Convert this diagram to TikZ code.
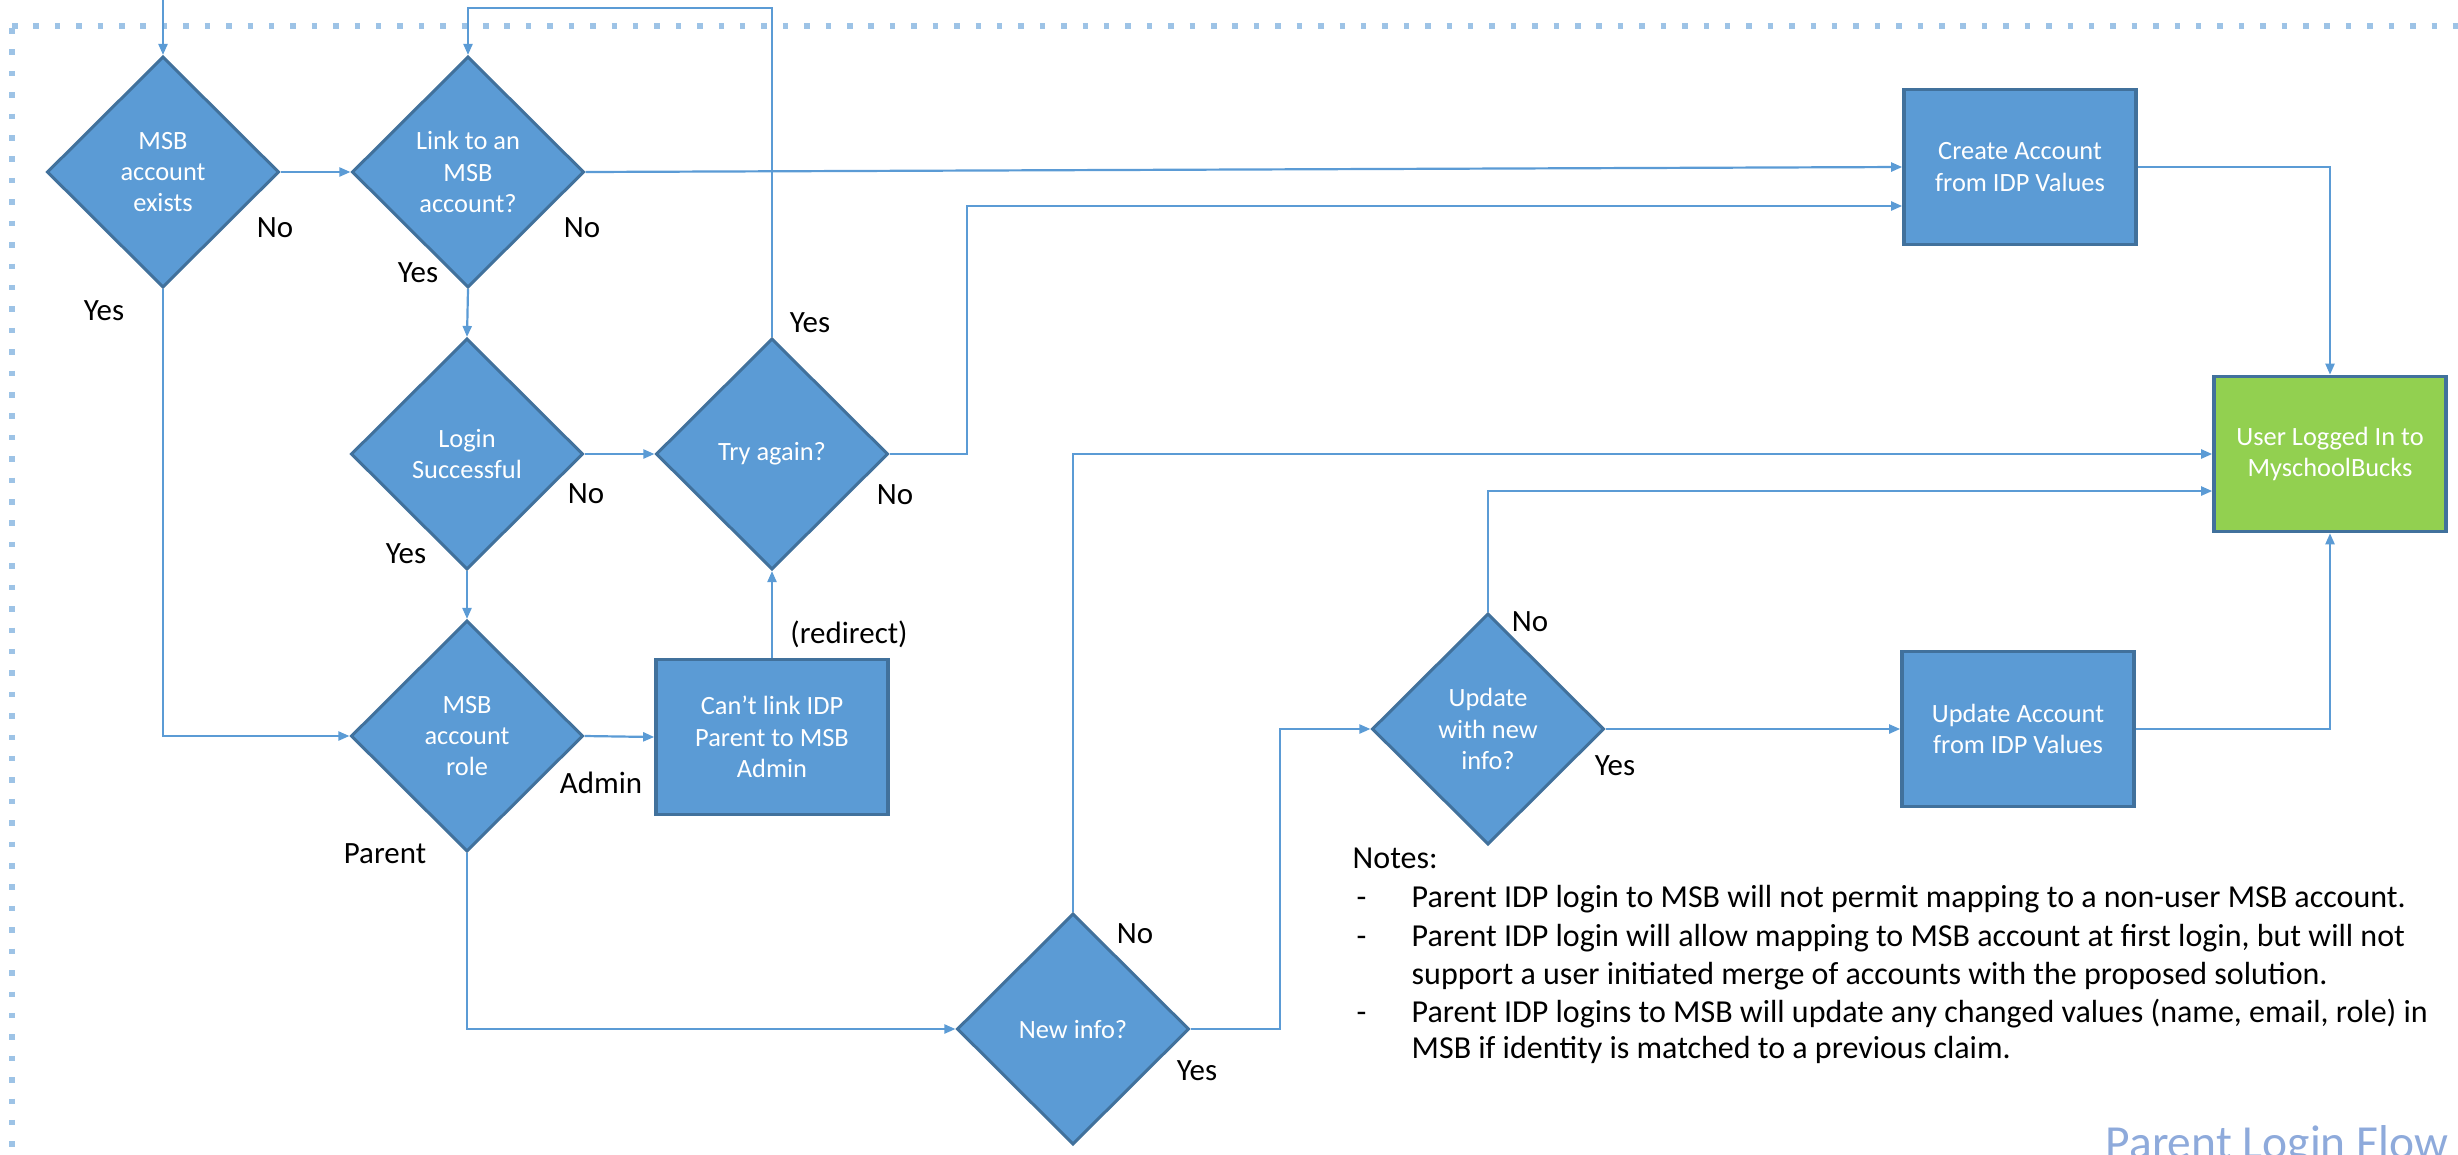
\documentclass[tikz,border=0pt]{standalone}
\usepackage{fontspec}
\setmainfont{Carlito}
\usetikzlibrary{shapes.geometric,arrows.meta}
\definecolor{fillblue}{HTML}{5B9BD5}
\definecolor{edgeblue}{HTML}{41719C}
\definecolor{lineblue}{HTML}{5B9BD5}
\definecolor{dotblue}{HTML}{9DC3E6}
\definecolor{greenfill}{HTML}{92D050}
\definecolor{titleblue}{HTML}{8EAADB}
\begin{document}
\begin{tikzpicture}[x=0.01cm,y=-0.01cm,
  decision/.style={diamond, aspect=1, draw=edgeblue, fill=fillblue, line width=0.03cm,
    minimum width=2.32cm, minimum height=2.31cm, inner sep=0pt, text=white, align=center,
    font=\fontsize{7.5}{8.9}\selectfont},
  process/.style={rectangle, draw=edgeblue, fill=fillblue, line width=0.035cm,
    minimum width=2.32cm, minimum height=1.55cm, inner sep=0pt, text=white, align=center,
    font=\fontsize{7.5}{8.9}\selectfont},
  conn/.style={draw=lineblue, line width=0.022cm, -{Triangle[length=0.11cm,width=0.09cm]}},
  lbl/.style={anchor=base, font=\fontsize{8.8}{10}\selectfont, text=black, inner sep=0pt},
  notetext/.style={anchor=base west, font=\fontsize{9.1}{11}\selectfont, text=black, inner sep=0pt},
  dotline/.style={draw=dotblue, line width=0.055cm, dash pattern=on 0.055cm off 0.159cm}
]
\useasboundingbox (0,0) rectangle (2458,1154);

% dotted frame
\draw[dotline] (12,26) -- (2458,26);
\draw[dotline] (12,28) -- (12,1154);

% nodes
\node[decision] (d1) at (163,172) {MSB\\account\\exists};
\node[decision] (d2) at (468,172) {Link to an\\MSB\\account?};
\node[decision] (d3) at (467,454) {Login\\Successful};
\node[decision] (d4) at (772,454) {Try again?};
\node[decision] (d5) at (467,736) {MSB\\account\\role};
\node[process] (cant) at (772,737) {Can’t link IDP\\Parent to MSB\\Admin};
\node[process] (create) at (2020,167) {Create Account\\from IDP Values};
\node[process, fill=greenfill] (green) at (2330,454) {User Logged In to\\MyschoolBucks};
\node[decision] (d7) at (1073,1029) {New info?};
\node[decision] (d6) at (1488,729) {Update\\with new\\info?};
\node[process] (update) at (2018,729) {Update Account\\from IDP Values};

\coordinate (start) at (163,0);
\coordinate (looptop) at (468,8);
\coordinate (c4) at (967,206);
\coordinate (c7) at (1280,729);

% connectors
\draw[conn] (start) -- (d1.north);
\draw[conn] (d1.east) -- (d2.west);
\draw[conn] (d2.east) -- (create.west);
\draw[conn] (d2.south) -- (d3.north);
\draw[conn] (d3.east) -- (d4.west);
\draw[conn] (d4.north) |- (looptop) -- (d2.north);
\draw[conn] (d4.east) -| (c4) -- (c4 -| create.west);
\draw[conn] (create.east) -| (green.north);
\draw[conn] (d1.south) |- (d5.west);
\draw[conn] (d3.south) -- (d5.north);
\draw[conn] (d5.east) -- (cant.west);
\draw[conn] (cant.north) -- (d4.south);
\draw[conn] (d5.south) |- (d7.west);
\draw[conn] (d7.north) |- (green.west);
\draw[conn] (d7.east) -| (c7) -- (d6.west);
\draw[conn] (d6.north) |- ([yshift=-0.37cm]green.west);
\draw[conn] (d6.east) -- (update.west);
\draw[conn] (update.east) -| (green.south);

% labels
\node[lbl] (l1) at (275,237) {No};
\node[lbl] (l2) at (582,237) {No};
\node[lbl] (l3) at (418,282) {Yes};
\node[lbl] (l4) at (104,320) {Yes};
\node[lbl] (l5) at (810,332) {Yes};
\node[lbl] (l6) at (586,503) {No};
\node[lbl] (l7) at (895,504) {No};
\node[lbl] (l8) at (406,563) {Yes};
\node[lbl] (l9) at (849,643) {(redirect)};
\node[lbl] (l10) at (601,793) {Admin};
\node[lbl] (l11) at (385,863) {Parent};
\node[lbl] (l12) at (1135,943) {No};
\node[lbl] (l13) at (1197,1080) {Yes};
\node[lbl] (l14) at (1530,631) {No};
\node[lbl] (l15) at (1615,775) {Yes};

% notes
\node[notetext] (n0) at (1352,868) {Notes:};
\node[notetext] (b1) at (1356,907) {-};
\node[notetext] (n1) at (1411,907) {Parent IDP login to MSB will not permit mapping to a non-user MSB account.};
\node[notetext] (b2) at (1356,946) {-};
\node[notetext] (n2) at (1411,946) {Parent IDP login will allow mapping to MSB account at first login, but will not};
\node[notetext] (n3) at (1411,984) {support a user initiated merge of accounts with the proposed solution.};
\node[notetext] (b3) at (1356,1022) {-};
\node[notetext] (n4) at (1411,1022) {Parent IDP logins to MSB will update any changed values (name, email, role) in};
\node[notetext] (n5) at (1411,1058) {MSB if identity is matched to a previous claim.};

% title
\node[anchor=base west, font=\fontsize{13.5}{16}\selectfont, text=titleblue, inner sep=0pt] (title) at (2105,1158) {Parent Login Flow};
\end{tikzpicture}
\end{document}
